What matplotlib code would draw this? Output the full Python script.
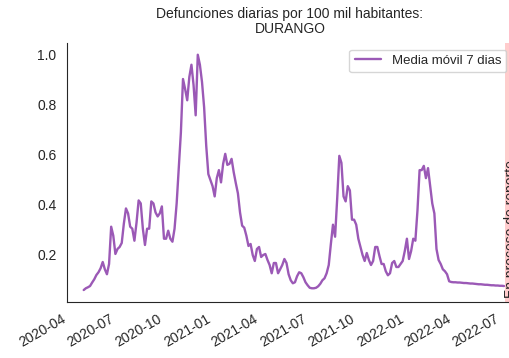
import matplotlib
matplotlib.use("Agg")
import matplotlib.pyplot as plt
import matplotlib.dates as mdates
import pandas as pd
import seaborn as sns

# Defunciones diarias por 100 mil habitantes (media movil 7 dias), Durango
# one value every 4 days starting 2020-05-01
fecha_inicio = "2020-05-01"
paso = "4D"
media_movil = [
    0.060, 0.067, 0.071, 0.076, 0.090, 0.103, 0.120, 0.131, 0.147, 0.172,
    0.143, 0.123, 0.164, 0.313, 0.277, 0.204, 0.224, 0.232, 0.248, 0.325,
    0.386, 0.366, 0.313, 0.305, 0.257, 0.329, 0.418, 0.406, 0.305, 0.240,
    0.305, 0.305, 0.414, 0.406, 0.370, 0.354, 0.366, 0.394, 0.265, 0.265,
    0.297, 0.265, 0.253, 0.305, 0.406, 0.547, 0.689, 0.903, 0.863, 0.818,
    0.911, 0.960, 0.879, 0.758, 1.000, 0.960, 0.891, 0.790, 0.636, 0.523,
    0.499, 0.475, 0.434, 0.507, 0.539, 0.490, 0.564, 0.604, 0.560, 0.564,
    0.584, 0.531, 0.487, 0.446, 0.370, 0.317, 0.309, 0.277, 0.236, 0.244,
    0.200, 0.176, 0.224, 0.232, 0.192, 0.200, 0.204, 0.180, 0.160, 0.127,
    0.168, 0.168, 0.127, 0.143, 0.160, 0.184, 0.168, 0.123, 0.099, 0.087,
    0.091, 0.115, 0.131, 0.127, 0.111, 0.091, 0.079, 0.069, 0.067, 0.067,
    0.069, 0.075, 0.085, 0.099, 0.107, 0.127, 0.160, 0.244, 0.321, 0.273,
    0.426, 0.596, 0.568, 0.434, 0.414, 0.475, 0.458, 0.341, 0.341, 0.321,
    0.265, 0.232, 0.200, 0.176, 0.208, 0.180, 0.160, 0.176, 0.232, 0.232,
    0.196, 0.164, 0.164, 0.135, 0.119, 0.127, 0.168, 0.176, 0.152, 0.152,
    0.164, 0.176, 0.216, 0.265, 0.184, 0.216, 0.265, 0.257, 0.378, 0.539,
    0.539, 0.556, 0.507, 0.547, 0.475, 0.406, 0.366, 0.224, 0.180, 0.164,
    0.143, 0.135, 0.123, 0.095, 0.092, 0.091, 0.091, 0.090, 0.090, 0.089,
    0.088, 0.088, 0.087, 0.086, 0.086, 0.085, 0.084, 0.083, 0.083, 0.082,
    0.081, 0.081, 0.080, 0.079, 0.079, 0.078, 0.078, 0.077, 0.077, 0.076,
]
reporte_inicio = "2022-07-08"
limite_x = ("2020-03-30", "2022-07-23")

fechas = pd.date_range(fecha_inicio, periods=len(media_movil), freq=paso)

sns.set_style("white")
plt.rcParams["font.family"] = ["Liberation Sans", "DejaVu Sans"]

fig = plt.figure(figsize=(5.1, 3.58), dpi=100)
ax = fig.add_axes([0.131, 0.157, 0.875, 0.723])

ax.plot(fechas, media_movil, color="#9b59b6", lw=1.7, label="Media móvil 7 dias")
ax.axvspan(pd.Timestamp(reporte_inicio), pd.Timestamp(limite_x[1]), color="red", alpha=0.2, lw=0)
ax.text(pd.Timestamp("2022-07-05"), 0.03, "En proceso de reporte", rotation=90,
        ha="left", va="bottom", fontsize=10, color="#262626")

ax.set_xlim(pd.Timestamp(limite_x[0]), pd.Timestamp(limite_x[1]))
ax.xaxis.set_major_locator(mdates.MonthLocator(bymonth=[1, 4, 7, 10]))
ax.xaxis.set_major_formatter(mdates.DateFormatter("%Y-%m"))
ax.tick_params(axis="both", labelsize=10, colors="#262626", pad=4)
plt.setp(ax.get_xticklabels(), rotation=30, ha="right")
ax.set_yticks([0.2, 0.4, 0.6, 0.8, 1.0])

ax.set_title("Defunciones diarias por 100 mil habitantes:\nDURANGO", fontsize=10,
             color="#262626", linespacing=1.1, pad=7)
ax.legend(loc="upper right", fontsize=9.5)
sns.despine(ax=ax)

fig.savefig("out.png", dpi=100)
